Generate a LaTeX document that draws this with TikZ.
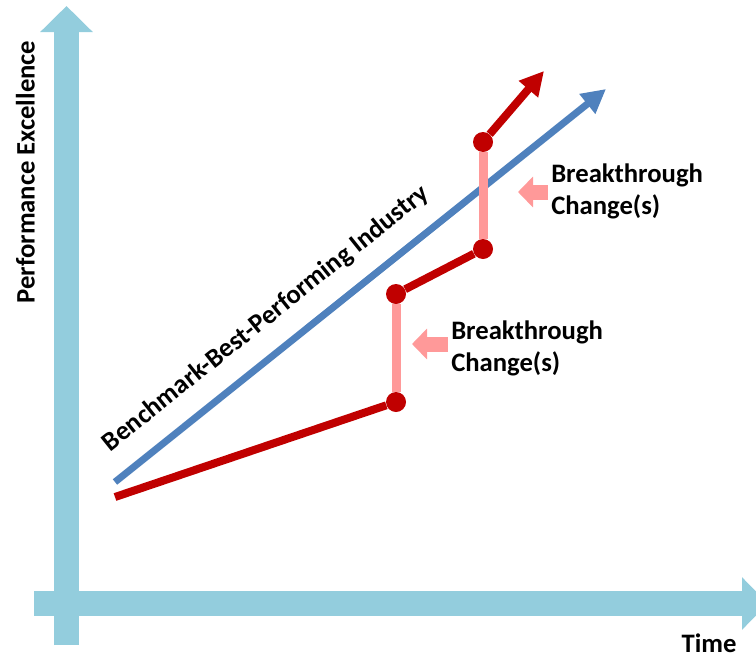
\documentclass[tikz,border=0pt]{standalone}
\usepackage{fontspec}
\setmainfont{Carlito}
\usepackage{xcolor}
\usepackage{tikz}
\usetikzlibrary{arrows.meta,positioning}

\definecolor{axisblue}{HTML}{93CDDD}
\definecolor{benchblue}{HTML}{4F81BD}
\definecolor{perfred}{HTML}{C00000}
\definecolor{jumppink}{HTML}{FF9999}

\tikzset{
  axisline/.style={axisblue, line width=18.75pt, -{Triangle[length=19.5pt, width=38.25pt]}},
  benchline/.style={benchblue, line width=5.25pt, -{Triangle[length=18pt, width=18pt]}},
  perfline/.style={perfred, line width=6pt},
  jumpline/.style={jumppink, line width=6.75pt},
  jumparrow/.style={jumppink, line width=11.25pt, -{Triangle[length=11.25pt, width=22.5pt]}, shorten <=2.5pt},
  dot/.style={circle, fill=perfred, inner sep=0pt, minimum size=15pt},
  lbl/.style={font=\bfseries\fontsize{20}{24}\selectfont, text=black, inner sep=0pt}
}

\begin{document}
\begin{tikzpicture}[x=0.75pt, y=-0.75pt]
    \clip (0,0) rectangle (756,657);
    % Axes
    \coordinate (ybot) at (66.5,645); \coordinate (ytop) at (66.5,6);
    \coordinate (xleft) at (34,603.5); \coordinate (xright) at (768,603.5);
    \draw [axisline] (ybot) -- (ytop);
    \draw [axisline] (xleft) -- (xright);
    \node [lbl, rotate=90, anchor=base] (perf) at (34.5,172) {Performance Excellence};
    \node [lbl, anchor=base] (time) at (709,652) {Time};
    % Benchmark
    \coordinate (b0) at (115,482); \coordinate (b1) at (606,89);
    \draw [benchline] (b0) -- node [lbl, pos=0.35, sloped, above=13.5pt] (benchlbl) {Benchmark-Best-Performing Industry} (b1);
    % Performance path
    \coordinate (r0) at (115,497); \coordinate (r1) at (544,71);
    \node [dot] (d1) at (396,402) {};
    \node [dot] (d2) at (396,294) {};
    \node [dot] (d3) at (483,249) {};
    \node [dot] (d4) at (483,142) {};
    \draw [perfline] (r0) -- (d1);
    \draw [perfline] (d2) -- (d3);
    \draw [perfline, -{Triangle[length=18pt, width=18pt]}] (d4) -- (r1);
    % Breakthroughs
    \draw [jumpline] (d1) -- (d2);
    \draw [jumpline] (d3) -- (d4);
    \node [lbl, anchor=west, align=left] (brk1) at (551,191) {Breakthrough\\Change(s)};
    \node [lbl, anchor=west, align=left] (brk2) at (451,348) {Breakthrough\\Change(s)};
    \coordinate (t1) at (518,192); \coordinate (t2) at (412,344);
    \draw [jumparrow] (brk1.west |- t1) -- (t1);
    \draw [jumparrow] (brk2.west |- t2) -- (t2);
\end{tikzpicture}
\end{document}
